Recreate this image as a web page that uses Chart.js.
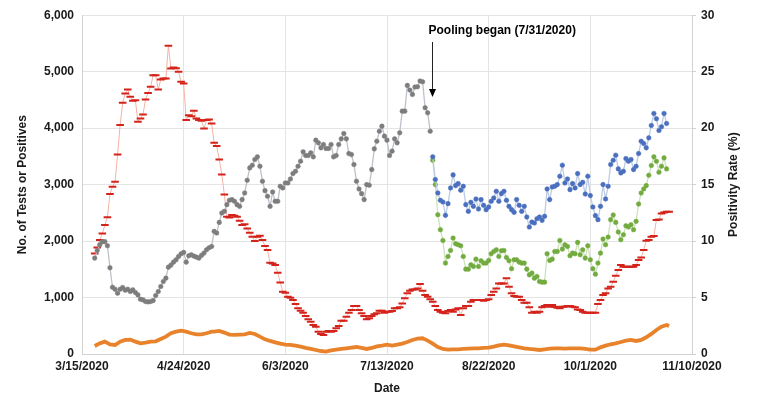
<!DOCTYPE html>
<html>
<head>
<meta charset="utf-8">
<script src="https://cdn.jsdelivr.net/npm/chart.js@4.4.1/dist/chart.umd.min.js"></script>
<style>
  html, body { margin: 0; padding: 0; background: #fff; }
  #wrap { width: 757px; height: 418px; }
</style>
</head>
<body>
<div id="wrap"><canvas id="chart" width="757" height="418"></canvas></div>
<script>
// x axis = days since 3/15/2020
const xTickLabels = ['3/15/2020', '4/24/2020', '6/3/2020', '7/13/2020', '8/22/2020', '10/1/2020', '11/10/2020'];

// Tests (before pooling), daily from day 5
const testsStart = 5;
const tests = [
  1698, 1834, 1935, 1988, 1990, 1917, 1527, 1183, 1148, 1077,
  1148, 1178, 1130, 1148, 1107, 1136, 1089, 1047, 970, 958,
  929, 923, 929, 946, 1035, 1107, 1195, 1284, 1343, 1538,
  1574, 1627, 1668, 1728, 1775, 1799, 1627, 1740, 1757, 1734,
  1716, 1698, 1746, 1787, 1846, 1882,
  1905, 2172, 2142, 2331, 2497, 2526, 2645, 2722, 2734, 2704,
  2645, 2615, 2734, 2852, 3077, 3296, 3343, 3444, 3491, 3325,
  3059, 2893, 2793, 2615, 2870, 2704, 2704, 2970, 2941, 3029,
  3029, 3100, 3195, 3236, 3325, 3414, 3580, 3515, 3515, 3562,
  3491, 3787, 3739, 3651, 3710, 3639, 3639, 3710,
  3491, 3515, 3710, 3810, 3905, 3810, 3550, 3532, 3355, 3059,
  2923, 2840, 2734, 3000, 2988, 3266, 3633, 3769, 3946, 4035,
  3858, 3787, 3515, 3592, 3810, 3739, 3917, 4301, 4301, 4757,
  4674, 4597, 4728, 4733, 4834, 4822, 4361, 4272, 3946
];

// After pooling (7/31/2020 = day 138)
const poolingDay = 138;
const poolingLabel = 'Pooling began (7/31/2020)';
const pooledTests = [
  3491, 3089, 2852, 2722, 2692, 2455, 2663, 2941, 3172, 2982, 3018, 2899, 2970, 2645, 2526,
  2686, 2615, 2746, 2568, 2734, 2633, 2556, 2604, 2704, 2763, 2881, 2704, 2840, 2881, 2722,
  2615, 2556, 2509, 2734, 2633, 2526, 2615, 2426, 2249, 2337, 2320, 2396, 2426, 2367, 2438,
  2923, 2734, 2958,
  2970, 3000, 3148, 3343, 3029, 3100, 2911, 3018, 2941, 3195, 3000, 3041, 2834, 3148, 2805,
  2604, 2450, 2379, 2615, 3000, 2746, 2970, 3355, 3432, 3521, 3278, 3207, 3236, 3461, 3414,
  3444, 3266, 3325, 3550, 3769, 3728, 3651, 3828, 4047, 4260, 4166, 3958, 4024, 4260, 4083
];
const pooledRuns = [
  3432, 3000, 2467, 2201, 2011, 1610, 1728, 1834, 2053, 1953, 1935, 1917, 1728, 1503, 1503,
  1580, 1550, 1680, 1550, 1651, 1610, 1610, 1657, 1775, 1816, 1846, 1728, 1828, 1834, 1710,
  1651, 1509, 1669, 1669, 1627, 1610, 1610, 1503, 1402, 1432, 1343, 1373, 1284, 1272, 1272,
  1775, 1657, 1680,
  1816, 1816, 2011, 1858, 1935, 1905, 1740, 1787, 1775, 1976, 1757, 1846, 1698, 1917, 1669,
  1509, 1414, 1610, 1787, 2035, 1935, 2071, 2379, 2461, 2331, 2160, 2024, 2112, 2272, 2249,
  2290, 2201, 2349, 2657, 2852, 2923, 2982, 3166, 3337, 3491, 3414, 3219, 3325, 3473, 3278
];

// Positivity rate (%), daily from day 5 -> right axis
const rateStart = 5;
const positivityRate = [
  8.91, 9.44, 10.09, 10.68, 11.42, 12.1, 14.16, 14.81, 15.25, 17.67,
  20.27, 22.24, 23.07, 23.42, 22.77, 22.42, 22.48, 20.56, 20.86, 21.21,
  22.54, 23.12, 23.66, 24.69, 24.69, 23.42, 24.31, 24.4, 24.4, 27.29,
  25.28, 25.37, 25.31, 24.99, 24.1, 23.95, 20.71, 21.15, 21.06, 21.53,
  20.86, 20.71, 20.65, 19.97, 20.71, 20.77, 20.41,
  18.7, 18.41, 17.23, 15.9, 14.13, 12.15, 12.09, 12.3, 12.24, 12.15,
  11.8, 11.42, 11.5, 11.12, 10.74, 10.38, 10.0, 10.38, 10.47, 10.09,
  9.56, 9.2, 8.08, 8.02, 7.88, 7.2, 6.34, 5.52, 5.43, 5.07,
  4.99, 4.78, 4.42, 4.04, 3.83, 3.66, 3.36, 3.07, 2.86, 2.57,
  2.42, 1.97, 1.77, 1.68, 1.97, 2.04,
  1.97, 2.04, 2.27, 2.48, 2.95, 2.95, 3.3, 3.66, 3.89, 4.25,
  4.25, 3.89, 3.6, 3.36, 3.07, 3.16, 3.36, 3.51, 3.6, 3.83,
  3.83, 3.66, 3.75, 3.75, 3.81, 4.04, 4.04, 4.13, 4.48, 4.93,
  5.37, 5.6, 5.72, 5.72, 5.81, 6.19, 5.6, 5.22, 5.07, 4.84,
  4.63, 4.25, 3.89, 3.75, 3.66, 3.6,
  3.81, 3.89, 3.75, 3.95, 4.04, 3.45, 4.04, 4.25, 4.25, 4.63,
  4.78, 4.78, 4.78, 4.78, 4.72, 4.78, 4.84, 5.22, 5.52, 5.81,
  6.25, 6.25, 6.25, 6.7, 5.96, 5.37, 5.13, 5.07, 5.07, 4.78,
  4.54, 4.54, 4.13, 3.66, 3.75, 3.66, 3.75, 4.13, 4.25, 4.34,
  4.19, 4.34, 4.19, 4.1, 4.04, 4.19, 4.19, 4.25,
  4.25, 4.19, 4.13, 3.95, 3.89, 3.75, 3.66, 3.66, 3.66, 3.66,
  3.66, 4.42, 4.78, 5.22, 5.37, 5.81, 5.96, 6.4, 6.93, 7.43,
  7.88, 7.73, 7.73, 7.73, 7.73, 7.73, 7.88, 8.32, 8.55, 9.2,
  10.03, 10.09, 10.38, 10.44, 11.86, 11.92, 12.45, 12.54, 12.6, 12.6
];

// Positives (read every other day)
const positiveDays = [
  5, 7, 9, 11, 13, 15, 17, 19, 21, 23, 25, 27, 29, 31, 33, 35, 37, 39, 41, 43, 45, 47, 49, 51,
  52, 54, 56, 58, 60, 62, 64, 66, 68, 70, 72, 74, 76, 78, 80, 82, 84, 86, 88, 90, 92, 94, 96,
  98, 100, 102, 104, 106, 108, 110, 112, 114, 116, 118, 120, 122, 124, 126, 128, 130, 132, 134, 136, 138, 140, 142, 144,
  146, 148, 150, 152, 154, 156, 158, 160, 162, 164, 166, 168, 170, 172, 174, 176, 178, 180, 182, 184, 186, 188, 190, 192,
  194, 196, 198, 200, 202, 204, 206, 208, 210, 212, 214, 216, 218, 220, 222, 224, 226, 228, 230, 231
];
const positives = [
  142, 189, 219, 170, 160, 219, 249, 255, 219, 189, 201, 219, 225, 266, 308, 367, 396, 414, 396, 367, 349, 349, 367, 396,
  396, 408, 379, 343, 337, 343, 349, 373, 355, 308, 260, 231, 207, 184, 166, 160, 148, 130, 107, 89, 71, 53, 41,
  65, 77, 89, 101, 112, 124, 107, 89, 107, 136, 148, 166, 148, 166, 183, 213, 249, 272, 278, 237, 183, 124, 89, 77,
  83, 83, 89, 95, 101, 101, 107, 112, 130, 154, 166, 154, 136, 118, 101, 89, 83, 71, 83, 95, 101, 101, 95, 101,
  101, 101, 89, 77, 77, 118, 148, 172, 189, 213, 237, 249, 231, 249, 296, 355, 426, 485, 515, 497
];

function series(start, vals) {
  return vals.map((v, i) => ({ x: start + i, y: v }));
}

const FONT = "'Liberation Sans', Arial, Helvetica, sans-serif";
const TEXT = '#1a1a1a';
const gridColor = '#e4e4e4';
const rightTitle = 'Positivity Rate (%)';

Chart.defaults.font.family = FONT;
Chart.defaults.font.size = 12;
Chart.defaults.font.weight = 'bold';
Chart.defaults.color = TEXT;

// arrow + note for the pooling start, and the right axis title (reads bottom-up)
const poolingNote = {
  id: 'poolingNote',
  afterDraw(chart) {
    const ctx = chart.ctx;
    const x = Math.round(chart.scales.x.getPixelForValue(poolingDay)) - 0.5;
    ctx.save();
    ctx.fillStyle = '#000';
    ctx.font = 'bold 12px ' + FONT;
    ctx.textAlign = 'left';
    ctx.textBaseline = 'middle';
    ctx.fillText(poolingLabel, x - 4, 31);
    ctx.strokeStyle = '#222';
    ctx.lineWidth = 1;
    ctx.beginPath();
    ctx.moveTo(x, 42);
    ctx.lineTo(x, 92);
    ctx.stroke();
    ctx.beginPath();
    ctx.moveTo(x - 3.5, 89);
    ctx.lineTo(x + 3.5, 89);
    ctx.lineTo(x, 97);
    ctx.closePath();
    ctx.fill();

    const area = chart.chartArea;
    ctx.fillStyle = TEXT;
    ctx.textAlign = 'center';
    ctx.translate(734, (area.top + area.bottom) / 2);
    ctx.rotate(-Math.PI / 2);
    ctx.fillText(rightTitle, 0, 0);
    ctx.restore();
  }
};

const dotSet = (label, data, dot, line) => ({
  label, data,
  yAxisID: 'y',
  borderColor: line,
  borderWidth: 1.3,
  pointRadius: 2.3,
  pointBackgroundColor: dot,
  pointBorderColor: dot,
  pointBorderWidth: 0.5,
  tension: 0
});

new Chart(document.getElementById('chart'), {
  type: 'line',
  data: {
    datasets: [
      dotSet('Tests', series(testsStart, tests), '#7d7d7d', '#bcc1ca'),
      dotSet('Pooled samples', series(poolingDay, pooledTests), '#4a6fbe', '#bccbe6'),
      dotSet('Pooled tests', series(poolingDay, pooledRuns), '#72ab3f', '#cde2bb'),
      {
        label: 'Positivity rate',
        data: series(rateStart, positivityRate),
        yAxisID: 'y1',
        borderColor: '#f3b3a5',
        borderWidth: 1,
        pointStyle: 'line',
        pointRadius: 3.8,
        pointBorderColor: '#d4231b',
        pointBorderWidth: 2,
        tension: 0
      },
      {
        label: 'Positives',
        data: positiveDays.map((d, i) => ({ x: d, y: positives[i] })),
        yAxisID: 'y',
        borderColor: '#e8832c',
        borderWidth: 3.8,
        pointRadius: 0,
        tension: 0
      }
    ]
  },
  options: {
    responsive: false,
    animation: false,
    devicePixelRatio: 1,
    layout: { padding: { top: 15, left: 0, right: 0, bottom: 22 } },
    plugins: { legend: { display: false }, tooltip: { enabled: false } },
    scales: {
      x: {
        type: 'linear',
        min: 0,
        max: 240,
        afterFit: s => { s.height = 42; },
        ticks: {
          stepSize: 40,
          padding: 5,
          maxRotation: 0,
          color: TEXT,
          font: { size: 12, weight: 'bold' },
          callback: v => xTickLabels[v / 40]
        },
        grid: { color: gridColor, drawTicks: false },
        border: { color: '#d2d2d2' },
        title: { display: true, text: 'Date', color: TEXT, font: { size: 12, weight: 'bold' }, padding: 0 }
      },
      y: {
        position: 'left',
        min: 0,
        max: 6000,
        afterFit: s => { s.width = 82; },
        ticks: {
          stepSize: 1000,
          padding: 8,
          color: TEXT,
          font: { size: 12, weight: 'bold' },
          callback: v => v.toLocaleString('en-US')
        },
        grid: { color: gridColor, drawTicks: false },
        border: { color: '#d2d2d2' },
        title: { display: true, text: 'No. of Tests or Positives', color: TEXT, font: { size: 12, weight: 'bold' }, padding: { top: 15, bottom: 0 } }
      },
      y1: {
        position: 'right',
        min: 0,
        max: 30,
        afterFit: s => { s.width = 65; },
        ticks: {
          stepSize: 5,
          padding: 5,
          color: TEXT,
          font: { size: 12, weight: 'bold' }
        },
        grid: { drawOnChartArea: false, color: '#d2d2d2', tickLength: 4 },
        border: { color: '#d2d2d2' },
        title: { display: false }
      }
    }
  },
  plugins: [poolingNote]
});
</script>
</body>
</html>
